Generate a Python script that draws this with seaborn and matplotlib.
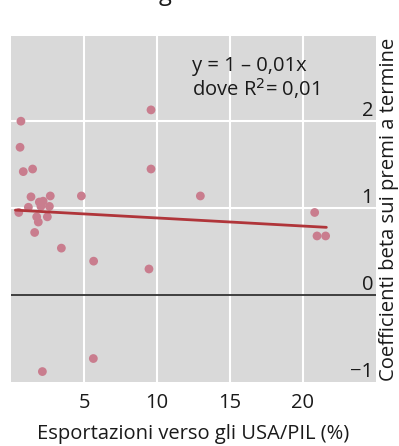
import matplotlib
matplotlib.use("Agg")
import matplotlib.pyplot as plt
import numpy as np
import pandas as pd
import seaborn as sns

# export share to USA (% of GDP) vs beta coefficient
export_pct = [0.68, 0.62, 0.84, 1.48, 9.59, 9.59, 1.37, 2.69, 4.82, 12.97,
              1.19, 1.94, 2.20, 2.05, 2.63, 0.53, 1.76, 2.49, 1.87, 1.62,
              3.45, 5.66, 9.45, 5.64, 2.15, 20.80, 20.96, 21.55]
beta = [2.00, 1.70, 1.42, 1.45, 2.13, 1.45, 1.13, 1.14, 1.14, 1.14,
        1.01, 1.07, 1.08, 1.02, 1.02, 0.95, 0.90, 0.90, 0.84, 0.72,
        0.54, 0.39, 0.30, -0.73, -0.88, 0.95, 0.68, 0.68]

# fitted line y = a + b x
intercept = 0.98
slope = -0.0093
fit_range = [0.3, 21.6]

xticks = [0, 5, 10, 15, 20]
xticklabels = ["", "5", "10", "15", "20"]
yticks = [-1, 0, 1, 2]
yticklabels = ["\u22121", "0", "1", "2"]

sns.set_style("white")
plt.rcParams["font.family"] = ["Open Sans", "DejaVu Sans"]

df = pd.DataFrame({"x": export_pct, "y": beta})
fit_x = np.array(fit_range)
fit = pd.DataFrame({"x": fit_x, "y": intercept + slope * fit_x})

fig = plt.figure(figsize=(3.99, 4.46), dpi=100)
ax = fig.add_axes([11 / 399, 1 - 382 / 446, 365 / 399, 346 / 446])
ax.set_facecolor("#d9d9d9")

ax.set_xlim(0, 25)
ax.set_ylim(-1, 2.98)

# grid
for v in [5, 10, 15, 20]:
    ax.axvline(v, color="white", lw=1.5, zorder=1)
for v in [1, 2]:
    ax.axhline(v, color="white", lw=1.5, zorder=1)
ax.axhline(0, color="#333333", lw=1.3, zorder=2)

sns.scatterplot(data=df, x="x", y="y", ax=ax, color="#c97d8e", s=40,
                edgecolor="none", zorder=3, legend=False)
sns.lineplot(data=fit, x="x", y="y", ax=ax, color="#b0353a", lw=2,
             zorder=4)

for s in ax.spines.values():
    s.set_visible(False)

ax.set_xticks(xticks)
ax.set_xticklabels(xticklabels)
ax.tick_params(axis="x", direction="in", length=10, width=1.4,
               color="#444444", labelsize=14.5, pad=8, labelcolor="#1a1a1a")

ax.yaxis.tick_right()
ax.set_yticks(yticks)
ax.set_yticklabels(yticklabels)
ax.tick_params(axis="y", length=0, labelsize=14.5, pad=-2,
               labelcolor="#1a1a1a")
for lab in ax.get_yticklabels():
    lab.set_horizontalalignment("right")
    lab.set_verticalalignment("bottom")

ax.yaxis.set_label_position("right")
ax.set_ylabel("Coefficienti beta sui premi a termine", fontsize=14.6,
              color="#1a1a1a", labelpad=2)
ax.set_xlabel("Esportazioni verso gli USA/PIL (%)", fontsize=14.5,
              color="#1a1a1a", labelpad=8)

ax.text(0.496, 0.898, "y = 1 \u2013 0,01x", transform=ax.transAxes,
        fontsize=14.5, va="baseline", ha="left", color="#1a1a1a")
ax.text(0.496, 0.826, "dove R$^{2}$= 0,01", transform=ax.transAxes,
        fontsize=14.5, va="baseline", ha="left", color="#1a1a1a")

# title cut off at the top edge
fig.text(165 / 399, 1.0, "g", fontsize=17, ha="center",
         va="baseline", color="#1a1a1a")

fig.savefig("out.png", dpi=100)
